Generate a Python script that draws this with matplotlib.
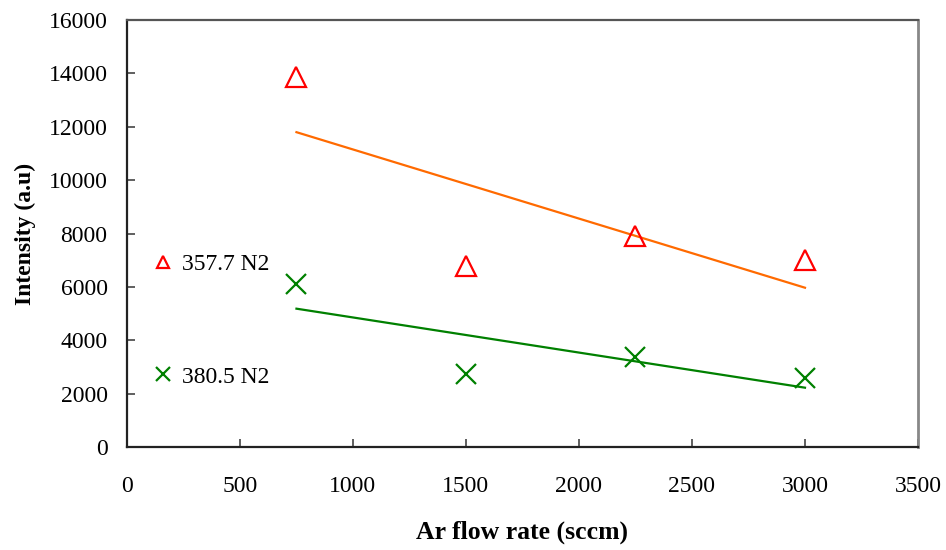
import numpy as np
import matplotlib
matplotlib.use("Agg")
import matplotlib.pyplot as plt
from matplotlib.lines import Line2D

# Ar flow rate (sccm) and emission intensities (a.u.)
flow = [750, 1500, 2250, 3000]
n2_357 = [13850, 6780, 7900, 7000]
n2_380 = [6100, 2740, 3370, 2600]
series_labels = ["357.7 N2", "380.5 N2"]
x_ticks = [0, 500, 1000, 1500, 2000, 2500, 3000, 3500]
y_ticks = [0, 2000, 4000, 6000, 8000, 10000, 12000, 14000, 16000]

plt.rcParams["font.family"] = ["Liberation Serif", "DejaVu Serif"]

fig = plt.figure(figsize=(9.46, 5.5), dpi=100)
ax = fig.add_axes([0.1342, 0.1873, 0.9704 - 0.1342, 0.9636 - 0.1873])

x = np.array(flow, dtype=float)

# Linear trend lines
for ys, col in ((n2_357, "#FF6A00"), (n2_380, "#008000")):
    k, b = np.polyfit(x, np.array(ys, dtype=float), 1)
    ax.plot([x[0], x[-1]], [k * x[0] + b, k * x[-1] + b], color=col, lw=1.6, zorder=2)

ax.plot(flow, n2_357, linestyle="none", marker="^", markersize=14,
        markerfacecolor="none", markeredgecolor="#FF0000", markeredgewidth=1.6, zorder=3)
ax.plot(flow, n2_380, linestyle="none", marker="x", markersize=15,
        color="#008000", markeredgewidth=1.6, zorder=3)

ax.set_xlim(0, 3500)
ax.set_ylim(0, 16000)
ax.set_xticks(x_ticks)
ax.set_yticks(y_ticks)
ax.tick_params(axis="both", direction="in", length=6, width=1.2, color="#444444",
               labelsize=17)
ax.tick_params(axis="x", pad=21)
ax.tick_params(axis="y", pad=14)

for side in ("left", "bottom"):
    ax.spines[side].set_color("#222222")
    ax.spines[side].set_linewidth(1.6)
ax.spines["top"].set_color("#555555")
ax.spines["top"].set_linewidth(1.6)
ax.spines["right"].set_color("#888888")
ax.spines["right"].set_linewidth(2.0)

ax.set_xlabel("Ar flow rate (sccm)", fontsize=18.5, fontweight="bold", labelpad=17)
ax.set_ylabel("Intensity (a.u)", fontsize=17, fontweight="bold", labelpad=9)

handles = [
    Line2D([], [], linestyle="none", marker="^", markersize=9, markerfacecolor="none",
           markeredgecolor="#FF0000", markeredgewidth=1.6),
    Line2D([], [], linestyle="none", marker="x", markersize=10, color="#008000",
           markeredgewidth=1.6),
]
ax.legend(handles, series_labels, loc="upper left", bbox_to_anchor=(0.0215, 0.475),
          frameon=False, fontsize=17, labelspacing=3.85, handlelength=0.8,
          handletextpad=0.4, borderaxespad=0.0, borderpad=0.4)

fig.savefig("out.png", dpi=100)
